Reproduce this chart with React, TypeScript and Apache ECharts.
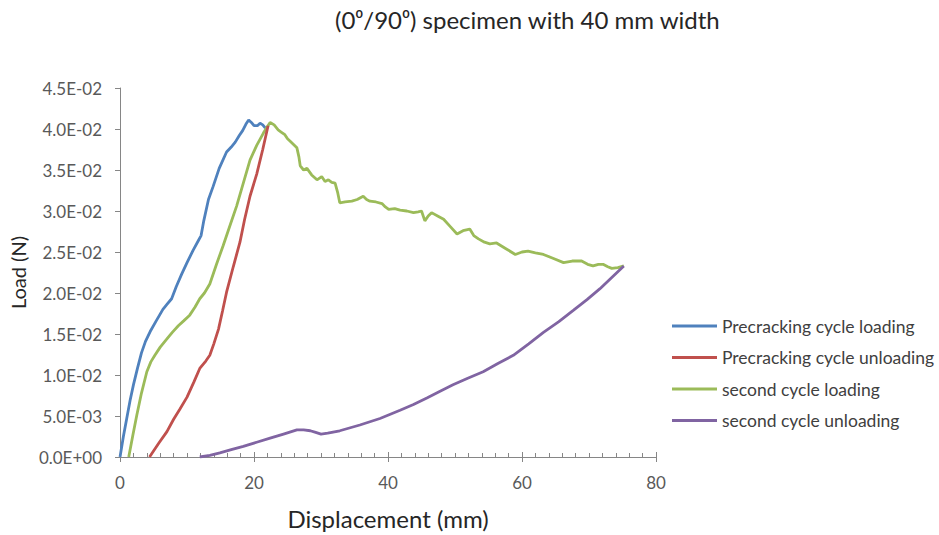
import React, { useEffect, useRef } from "react";
import * as echarts from "echarts";

const TITLE = "(0⁰/90⁰) specimen with 40 mm width";
const X_NAME = "Displacement (mm)";
const Y_NAME = "Load (N)";

const SERIES_NAMES = [
  "Precracking cycle loading",
  "Precracking cycle unloading",
  "second cycle loading",
  "second cycle unloading",
];
const COLORS = ["#4f81bd", "#c0504d", "#9bbb59", "#8064a2"];

// [displacement mm, load N]
const precrackLoading: [number, number][] = [
  [0, 0], [0.5, 0.0025], [1.0, 0.0047], [1.5, 0.0069], [2.0, 0.0088], [2.6, 0.0108],
  [3.2, 0.0127], [3.8, 0.0141], [4.5, 0.0153], [5.4, 0.0166], [6.4, 0.0180],
  [7.0, 0.0186], [7.7, 0.0193], [8.4, 0.0208], [9.2, 0.0223], [10.0, 0.0237],
  [10.9, 0.0252], [11.7, 0.0264], [12.1, 0.0270], [12.5, 0.0288], [13.2, 0.0314],
  [13.9, 0.0330], [14.8, 0.0352], [15.9, 0.0372], [16.6, 0.0378], [17.2, 0.0384],
  [17.8, 0.0392], [18.3, 0.0398], [18.8, 0.0406], [19.2, 0.0411], [19.6, 0.0408],
  [20.0, 0.0404], [20.5, 0.0404], [20.9, 0.0407], [21.3, 0.0405], [21.7, 0.0401],
];

const precrackUnloading: [number, number][] = [
  [22.1, 0.0404], [21.3, 0.0375], [20.4, 0.0345], [19.4, 0.0318], [18.6, 0.0290],
  [17.9, 0.0262], [16.9, 0.0232], [15.9, 0.0201], [15.3, 0.0178], [14.7, 0.0156],
  [14.0, 0.0138], [13.4, 0.0124], [12.8, 0.0117], [11.9, 0.0108], [11.0, 0.0091],
  [10.0, 0.0073], [8.9, 0.0058], [8.0, 0.0046], [7.0, 0.0031], [5.8, 0.0017],
  [4.4, 0.0],
];

const secondLoading: [number, number][] = [
  [1.3, 0.0], [1.9, 0.0026], [2.5, 0.0051], [3.2, 0.0078], [4.0, 0.0104],
  [4.6, 0.0116], [5.2, 0.0124], [6.0, 0.0134], [7.0, 0.0144], [7.8, 0.0152],
  [8.7, 0.0160], [9.5, 0.0166], [10.4, 0.0173], [11.2, 0.0183], [11.9, 0.0193],
  [12.6, 0.0200], [13.4, 0.0211], [14.4, 0.0235], [15.4, 0.0258], [16.4, 0.0282],
  [17.4, 0.0306], [18.4, 0.0334], [19.4, 0.0362], [20.4, 0.0380], [21.4, 0.0395],
  [22.0, 0.0403], [22.4, 0.0408], [23.0, 0.0405], [23.6, 0.0399], [24.1, 0.0396],
  [24.6, 0.0393], [25.0, 0.0388], [25.4, 0.0385], [25.9, 0.0381], [26.4, 0.0377],
  [26.7, 0.0366], [26.9, 0.0355], [27.4, 0.0350], [27.9, 0.0352], [28.6, 0.0344],
  [29.4, 0.0338], [30.1, 0.0342], [30.6, 0.0336], [31.1, 0.0338], [31.6, 0.0335],
  [32.1, 0.0334], [32.5, 0.0322], [32.8, 0.0310], [33.6, 0.0311], [34.6, 0.0312],
  [35.4, 0.0314], [36.3, 0.0318], [36.8, 0.0314], [37.3, 0.0312], [38.2, 0.0311],
  [39.1, 0.0309], [39.6, 0.0305], [40.1, 0.0302], [41.0, 0.0303], [41.8, 0.0301],
  [42.8, 0.0300], [43.8, 0.0298], [44.5, 0.0299], [45.0, 0.0300], [45.5, 0.0288],
  [46.0, 0.0294], [46.5, 0.0298], [47.4, 0.0294], [48.3, 0.0290], [49.3, 0.0281],
  [50.3, 0.0272], [51.2, 0.0276], [52.2, 0.0278], [52.8, 0.0270], [53.5, 0.0266],
  [54.4, 0.0262], [55.2, 0.0260], [56.2, 0.0261], [57.6, 0.0254], [59.0, 0.0247],
  [60.0, 0.0250], [60.9, 0.0251], [62.0, 0.0249], [63.2, 0.0247], [64.7, 0.0242],
  [66.2, 0.0237], [67.5, 0.0239], [68.9, 0.0239], [69.8, 0.0235], [70.6, 0.0233],
  [71.4, 0.0235], [72.1, 0.0235], [72.8, 0.0232], [73.4, 0.0230], [74.3, 0.0231],
  [75.2, 0.0233],
];

const secondUnloading: [number, number][] = [
  [75.2, 0.0233], [73.4, 0.0219], [71.6, 0.0205], [69.7, 0.0192], [67.7, 0.0179],
  [65.5, 0.0165], [63.2, 0.0152], [61.0, 0.0138], [58.7, 0.0124], [56.4, 0.0114],
  [54.2, 0.0104], [51.9, 0.0096], [49.7, 0.0088], [47.7, 0.0080], [45.8, 0.0072],
  [43.8, 0.0064], [41.8, 0.0057], [38.8, 0.0047], [35.8, 0.0039], [32.8, 0.0032],
  [31.0, 0.0029], [30.0, 0.0028], [29.2, 0.0030], [28.4, 0.0032], [27.4, 0.0033],
  [26.4, 0.0033], [24.4, 0.0028], [22.4, 0.0023], [20.4, 0.0018], [18.4, 0.0013],
  [16.6, 0.0009], [14.9, 0.0005], [13.4, 0.0002], [11.9, 0.0],
];

const X_MIN = 0;
const X_MAX = 80;
const X_STEP = 20;
const Y_MIN = 0;
const Y_MAX = 0.045;
const Y_STEP = 0.005;

const FONT = "Lato, 'Liberation Sans', sans-serif";
const AXIS_COLOR = "#868686";

function fmtExp(v: number): string {
  if (v === 0) return "0.0E+00";
  const s = v.toExponential(1);
  const [m, e] = s.split("e");
  const n = parseInt(e, 10);
  const sign = n < 0 ? "-" : "+";
  const abs = Math.abs(n);
  return `${m}E${sign}${abs < 10 ? "0" + abs : abs}`;
}

export default function App() {
  const ref = useRef<HTMLDivElement>(null);
  useEffect(() => {
    if (!ref.current) return;
    const chart = echarts.init(ref.current, null, { renderer: "svg" });
    const allData = [precrackLoading, precrackUnloading, secondLoading, secondUnloading];
    chart.setOption({
      animation: false,
      backgroundColor: "#ffffff",
      title: {
        text: TITLE,
        left: 330,
        top: 2,
        textStyle: { fontFamily: FONT, fontSize: 24, fontWeight: "normal", color: "#262626" },
      },
      legend: {
        orient: "vertical",
        left: 672,
        top: 317,
        padding: 0,
        icon: "rect",
        itemWidth: 45,
        itemHeight: 3,
        itemGap: 13.5,
        data: SERIES_NAMES,
        textStyle: { fontFamily: FONT, fontSize: 17.5, color: "#404040" },
      },
      grid: { left: 120, right: 283, top: 88, bottom: 76, containLabel: false },
      xAxis: [
        {
          type: "value",
          min: X_MIN,
          max: X_MAX,
          interval: X_STEP,
          name: X_NAME,
          nameLocation: "middle",
          nameGap: 49,
          nameTextStyle: { fontFamily: FONT, fontSize: 24, color: "#262626" },
          axisLine: { show: true, lineStyle: { color: AXIS_COLOR, width: 1 } },
          axisTick: { show: true, inside: true, length: 5, lineStyle: { color: AXIS_COLOR } },
          minorTick: { show: true, splitNumber: 10, length: 4, lineStyle: { color: AXIS_COLOR } },
          splitLine: { show: false },
          axisLabel: { fontFamily: FONT, fontSize: 17, color: "#595959", margin: 17 },
        },
        {
          type: "value",
          min: X_MIN,
          max: X_MAX,
          interval: X_STEP,
          position: "bottom",
          axisLine: { show: false },
          axisTick: { show: true, inside: false, length: 5, lineStyle: { color: AXIS_COLOR } },
          axisLabel: { show: false },
          splitLine: { show: false },
        },
      ],
      yAxis: {
        type: "value",
        min: Y_MIN,
        max: Y_MAX,
        interval: Y_STEP,
        name: Y_NAME,
        nameLocation: "middle",
        nameRotate: 90,
        nameGap: 81,
        nameTextStyle: { fontFamily: FONT, fontSize: 20, color: "#262626" },
        axisLine: { show: true, lineStyle: { color: AXIS_COLOR, width: 1 } },
        axisTick: { show: true, length: 5, lineStyle: { color: AXIS_COLOR } },
        splitLine: { show: false },
        axisLabel: {
          fontFamily: FONT,
          fontSize: 17,
          color: "#595959",
          margin: 18,
          formatter: (v: number) => fmtExp(v),
        },
      },
      series: SERIES_NAMES.map((name, i) => ({
        name,
        type: "line",
        xAxisIndex: 0,
        data: allData[i],
        symbol: "none",
        smooth: false,
        color: COLORS[i],
        lineStyle: { color: COLORS[i], width: 2.8 },
        z: i === 1 ? 3 : 2,
      })),
    });
    return () => chart.dispose();
  }, []);
  return (
    <div
      ref={ref}
      style={{ position: "absolute", left: 0, top: 0, width: 939, height: 535 }}
    />
  );
}
